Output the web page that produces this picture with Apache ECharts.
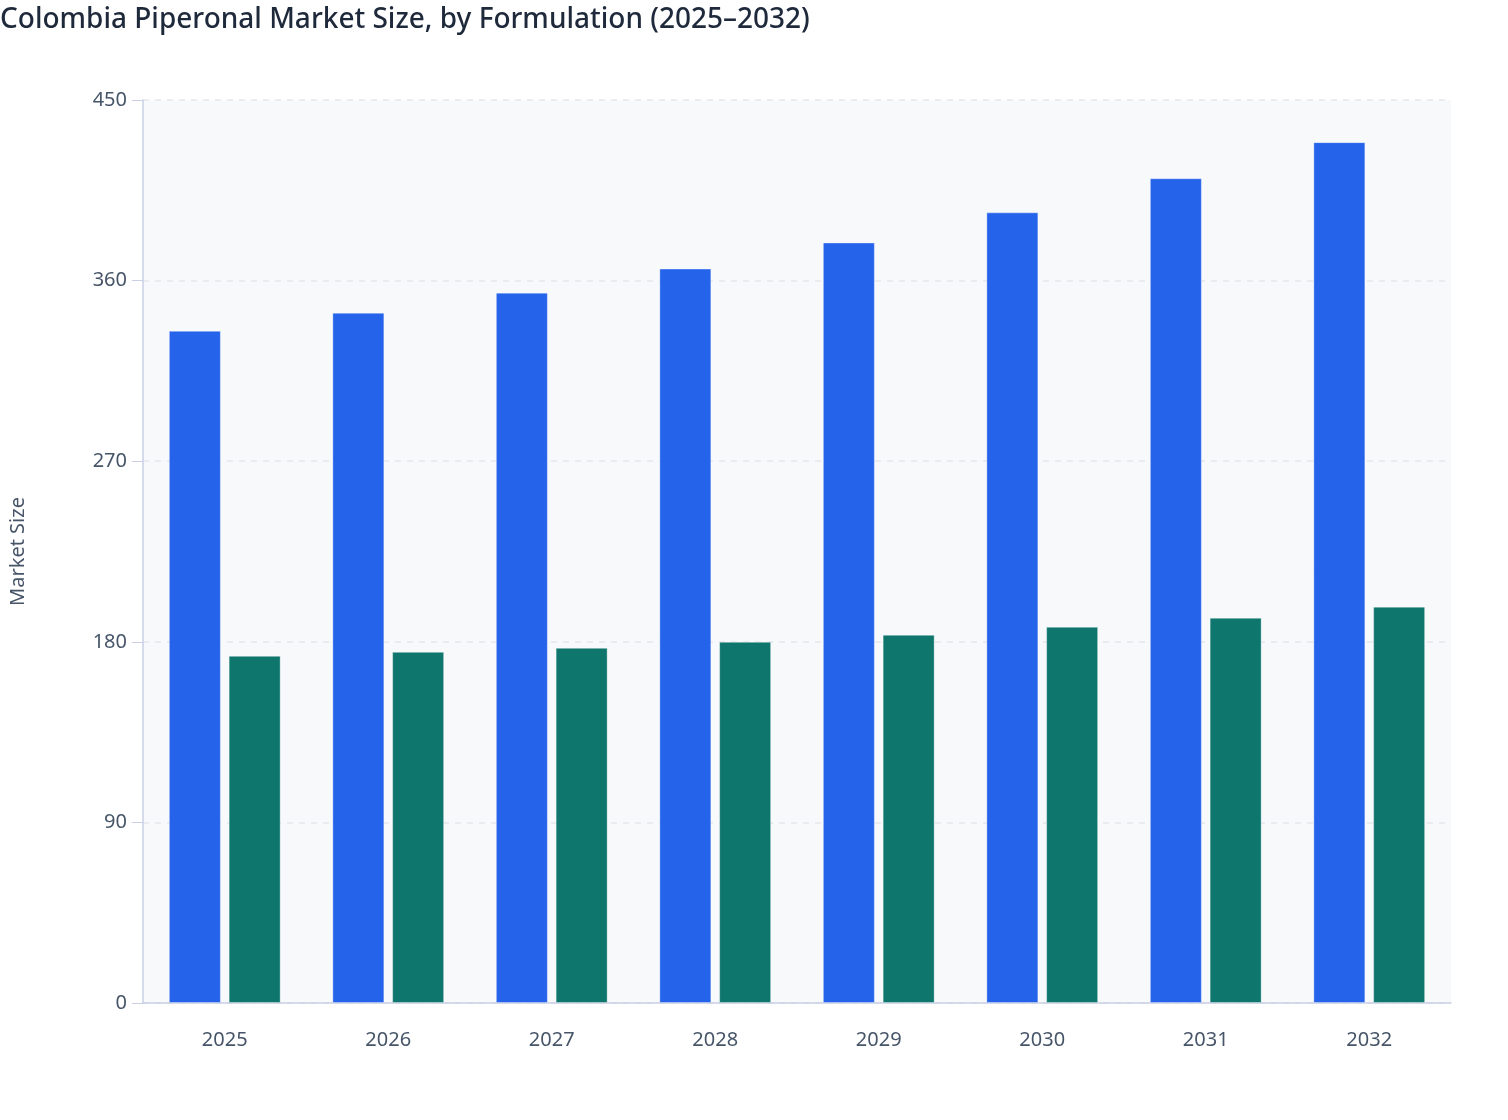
<!DOCTYPE html>
<html><head><meta charset="utf-8">
<script src="https://cdn.jsdelivr.net/npm/echarts@6/dist/echarts.min.js"></script>
<style>html,body{margin:0;padding:0;background:#fff}#c{width:1508px;height:1120px}</style>
</head><body><div id="c"></div>
<script>
const categories = ['2025','2026','2027','2028','2029','2030','2031','2032'];
const seriesA = [335, 344, 354, 366, 379, 394, 411, 429];
const seriesB = [173, 175, 177, 180, 183.5, 187.5, 192, 197.5];
const yTicks = {min: 0, max: 450, interval: 90};

const chart = echarts.init(document.getElementById('c'));
chart.setOption({
  backgroundColor: '#ffffff',
  animation: false,
  title: {
    text: 'Colombia Piperonal Market Size, by Formulation (2025–2032)',
    left: 0, top: 6, padding: 0,
    textStyle: {fontFamily: 'Noto Sans', fontSize: 28, fontWeight: 500, color: '#1e293b'}
  },
  grid: {left: 143, right: 57, top: 100, bottom: 117, show: true, backgroundColor: '#f8f9fb', borderWidth: 0},
  xAxis: {
    type: 'category', data: categories,
    axisLine: {lineStyle: {color: '#c9d0e6', width: 1.5}},
    axisTick: {alignWithLabel: true, length: 10, lineStyle: {color: '#c9d0e6'}},
    axisLabel: {color: '#475569', fontFamily: 'Noto Sans', fontSize: 20, margin: 27}
  },
  yAxis: {
    type: 'value', min: yTicks.min, max: yTicks.max, interval: yTicks.interval,
    name: 'Market Size', nameLocation: 'middle', nameGap: 115,
    nameTextStyle: {color: '#475569', fontFamily: 'Noto Sans', fontSize: 20},
    axisLine: {show: true, lineStyle: {color: '#c9d0e6', width: 1.5}},
    axisTick: {show: true, length: 11, lineStyle: {color: '#c9d0e6'}},
    axisLabel: {color: '#475569', fontFamily: 'Noto Sans', fontSize: 20, margin: 16},
    splitLine: {lineStyle: {color: '#e3e6ee', type: [6, 6], width: 1.5}}
  },
  series: [
    {name: 'Liquid', type: 'bar', data: seriesA, barWidth: 52, barGap: '15%',
     itemStyle: {color: '#2563eb', borderColor: 'rgba(255,255,255,0.35)', borderWidth: 1}},
    {name: 'Powder', type: 'bar', data: seriesB, barWidth: 52, barGap: '15%',
     itemStyle: {color: '#0f766e', borderColor: 'rgba(255,255,255,0.35)', borderWidth: 1}}
  ]
});
</script></body></html>
